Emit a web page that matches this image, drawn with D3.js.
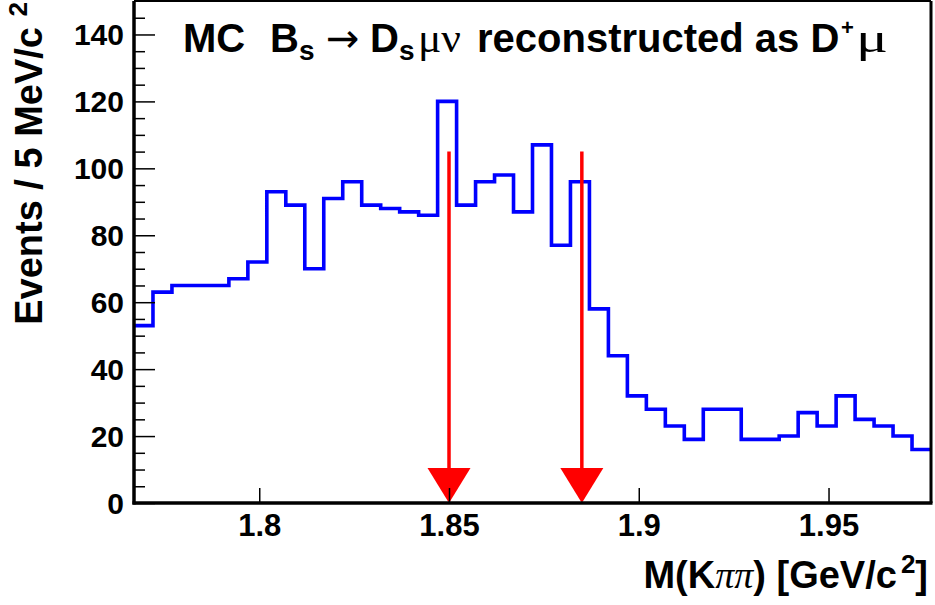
<!DOCTYPE html>
<html>
<head>
<meta charset="utf-8">
<script src="https://cdn.jsdelivr.net/npm/d3@7"></script>
<style>
html,body{margin:0;padding:0;background:#fff;}
svg{display:block;}
</style>
</head>
<body>
<svg id="c" width="935" height="605"></svg>
<script>
// ---- data ----
const binStart = 1.767;          // GeV/c^2, lower edge of first bin
const binWidth = 0.005;          // 5 MeV
const counts = [53,63,65,65,65,67,72,93,89,70,
                91,96,89,88,87,86,120,89,96,98,
                87,107,77,96,58,44,32,28,23,19,
                28,28,19,19,20,27,23,32,25,23,
                20,16];
const xDomain = [1.767, 1.977];
const yDomain = [0, 150];
const xTicks = [1.8, 1.85, 1.9, 1.95];
const xTickLabels = ["1.8", "1.85", "1.9", "1.95"];
const yTicks = [0, 20, 40, 60, 80, 100, 120, 140];
const yMinorStep = 5;
const cutPositions = [1.85, 1.885];
const cutHeight = 105;

// ---- layout ----
const L = 134, R = 931, T = 1, B = 503;
const svg = d3.select("#c");
const x = d3.scaleLinear().domain(xDomain).range([L, R]);
const y = d3.scaleLinear().domain(yDomain).range([B, T]);
const sans = "'Liberation Sans', Arial, Helvetica, sans-serif";
const serif = "'Liberation Serif', 'DejaVu Serif', 'Times New Roman', serif";

svg.append("defs").append("clipPath").attr("id","plot")
  .append("rect").attr("x",L).attr("y",T).attr("width",R-L).attr("height",B-T);

// ---- histogram ----
const pts = counts.map((c,i)=>({x: binStart + i*binWidth, y: c}));
pts.push({x: binStart + counts.length*binWidth, y: counts[counts.length-1]});
const line = d3.line().x(d=>x(d.x)).y(d=>y(d.y)).curve(d3.curveStepAfter);
svg.append("path").attr("d", line(pts))
  .attr("fill","none").attr("stroke","#0000ff").attr("stroke-width",3.6)
  .attr("clip-path","url(#plot)");

// ---- cut arrows ----
cutPositions.forEach(p=>{
  const xp = x(p);
  svg.append("line").attr("x1",xp).attr("x2",xp)
    .attr("y1",y(cutHeight)).attr("y2",y(0)-30)
    .attr("stroke","#ff0000").attr("stroke-width",3.5);
  svg.append("path")
    .attr("d",`M${xp-21.5},${y(0)-35} L${xp+21.5},${y(0)-35} L${xp},${y(0)} Z`)
    .attr("fill","#ff0000");
});

// ---- frame ----
svg.append("line").attr("x1",L).attr("x2",R).attr("y1",T).attr("y2",T).attr("stroke","#000").attr("stroke-width",2);
svg.append("line").attr("x1",R).attr("x2",R).attr("y1",T).attr("y2",B).attr("stroke","#000").attr("stroke-width",3);

// ---- y axis ----
const yMinor = d3.range(yDomain[0], yDomain[1], yMinorStep).filter(v=>v%20!==0);
const yAxisMinor = d3.axisRight(y).tickValues(yMinor).tickSize(11).tickFormat("");
const gyMinor = svg.append("g").attr("transform",`translate(${L},0)`).call(yAxisMinor);
gyMinor.select(".domain").remove();
gyMinor.selectAll("line").attr("stroke","#000").attr("stroke-width",1.5);

const yAxis = d3.axisRight(y).tickValues(yTicks).tickSize(21).tickFormat(d3.format("d"));
const gy = svg.append("g").attr("transform",`translate(${L},0)`).call(yAxis);
gy.select(".domain").remove();
gy.selectAll("line").attr("stroke","#000").attr("stroke-width",1.5);
gy.selectAll("text").attr("x",-10).attr("dy","0.35em").attr("text-anchor","end")
  .attr("font-family",sans).attr("font-weight","bold").attr("font-size",30).attr("fill","#000");

// ---- x axis ----
const xAxis = d3.axisTop(x).tickValues(xTicks).tickSize(15).tickFormat((d,i)=>xTickLabels[i]);
const gx = svg.append("g").attr("transform",`translate(0,${B})`).call(xAxis);
gx.select(".domain").remove();
gx.selectAll("line").attr("stroke","#000").attr("stroke-width",1.5);
gx.selectAll("text").attr("y",33).attr("dy",0).attr("text-anchor","middle")
  .attr("font-family",sans).attr("font-weight","bold").attr("font-size",31).attr("fill","#000");

// axis lines (thick)
svg.append("line").attr("x1",L).attr("x2",L).attr("y1",T).attr("y2",B+1.5).attr("stroke","#000").attr("stroke-width",3.5);
svg.append("line").attr("x1",L-1.5).attr("x2",R+1.5).attr("y1",B).attr("y2",B).attr("stroke","#000").attr("stroke-width",3.5);

// ---- x axis title ----
const xt = svg.append("text").attr("x",928).attr("y",588).attr("text-anchor","end")
  .attr("font-family",sans).attr("font-weight","bold").attr("font-size",38).attr("fill","#000");
xt.append("tspan").text("M(K");
xt.append("tspan").attr("font-family",serif).attr("font-weight","normal").attr("font-style","italic").text("ππ");
xt.append("tspan").text(") [GeV/c");
xt.append("tspan").attr("font-size",26).attr("dx",4).attr("dy",-15).text("2");
xt.append("tspan").attr("dy",15).text("]");

// ---- y axis title ----
const yt = svg.append("text").attr("transform","translate(42,2) rotate(-90)")
  .attr("text-anchor","end")
  .attr("font-family",sans).attr("font-weight","bold").attr("font-size",38).attr("fill","#000");
yt.append("tspan").text("Events / 5 MeV/c ");
yt.append("tspan").attr("font-size",26).attr("dy",-15).text("2");

// ---- title ----
const tY = 52;
const title = svg.append("g").attr("font-family",sans).attr("font-weight","bold").attr("font-size",40).attr("fill","#000");
title.append("text").attr("x",183).attr("y",tY).text("MC");
const t2 = title.append("text").attr("x",270).attr("y",tY);
t2.append("tspan").text("B");
t2.append("tspan").attr("font-size",28).attr("dy",8).text("s");
title.append("text").attr("x",326).attr("y",tY)
  .attr("font-family","'DejaVu Sans', sans-serif").attr("font-weight","normal").attr("font-size",40).text("→");
const t3 = title.append("text").attr("x",370).attr("y",tY);
t3.append("tspan").text("D");
t3.append("tspan").attr("font-size",28).attr("dy",8).text("s");
title.append("text").attr("x",418).attr("y",tY).attr("font-family",serif).attr("font-weight","normal")
  .attr("textLength",43).attr("lengthAdjust","spacingAndGlyphs").text("μν");
const t4 = title.append("text").attr("x",477).attr("y",tY);
t4.append("tspan").text("reconstructed as D");
title.append("text").attr("x",841).attr("y",tY-17).attr("font-size",22).text("+");
title.append("text").attr("x",856).attr("y",tY).attr("font-family",serif).attr("font-weight","normal")
  .attr("textLength",32).attr("lengthAdjust","spacingAndGlyphs").text("μ");
</script>
</body>
</html>
